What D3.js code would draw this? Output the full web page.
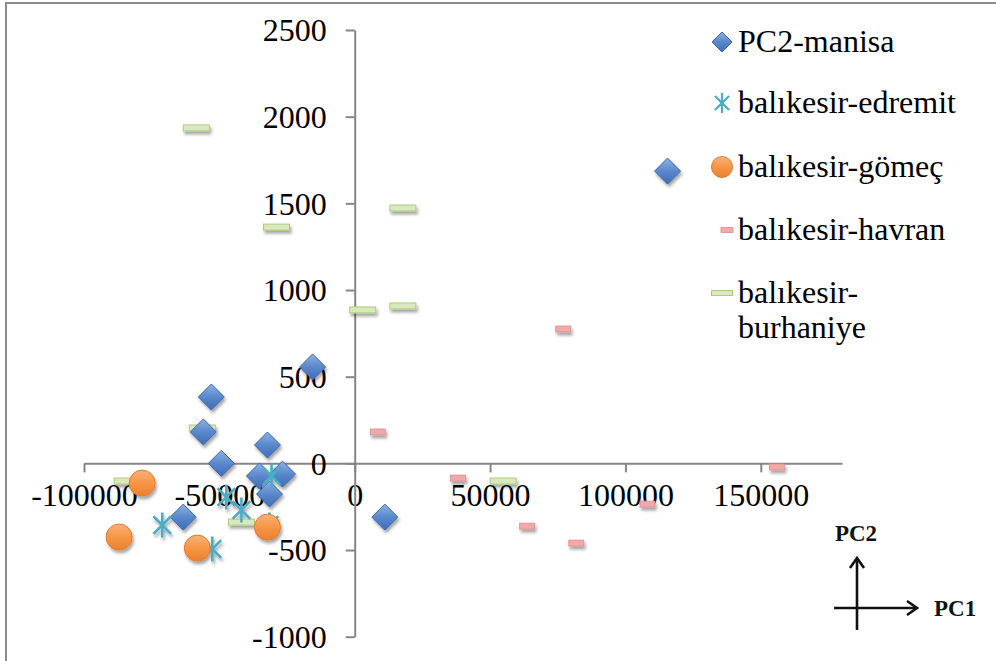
<!DOCTYPE html>
<html>
<head>
<meta charset="utf-8">
<script src="https://cdn.jsdelivr.net/npm/d3@7"></script>
<style>
  html, body { margin: 0; padding: 0; background: #fff; }
  svg { display: block; }
  svg text { font-family: "Liberation Serif", "Times New Roman", Tinos, "DejaVu Serif", serif; }
</style>
</head>
<body>
<svg id="chart" width="996" height="661"></svg>
<script>
// ---- data (PC1, PC2) ----
const seriesNames = ["PC2-manisa", "balıkesir-edremit", "balıkesir-gömeç", "balıkesir-havran", "balıkesir-burhaniye"];

const manisaPC1 = [115556, -15556, -52963, -55926, -49259, -32222, -35185, -26667, -31481, -63333, 11111];
const manisaPC2 = [1686, 556, 383, 181, 0, 106, -73, -62, -177, -310, -310];

const edremitPC1 = [-71111, -52593, -47407, -41852, -30741, -31481];
const edremitPC2 = [-356, -494, -194, -269, -73, -356];

const gomecPC1 = [-78519, -87037, -58148, -32222];
const gomecPC2 = [-114, -425, -489, -368];

const havranPC1 = [77037, 8519, 38148, 63704, 81852, 108148, 155926];
const havranPC2 = [775, 181, -85, -362, -460, -235, -21];

const burhaniyePC1 = [-58519, -28889, 17778, 2963, 17778, -56296, -84074, -41852, 54815];
const burhaniyePC2 = [1935, 1363, 1473, 885, 908, 204, -102, -339, -102];

const xTicks = [-100000, -50000, 0, 50000, 100000, 150000];
const yTicks = [-1000, -500, 0, 500, 1000, 1500, 2000, 2500];

// ---- drawing ----
const FONT = "'Liberation Serif', 'Times New Roman', Tinos, 'DejaVu Serif', serif";
const svg = d3.select("#chart");
const defs = svg.append("defs");

const shadow = defs.append("filter").attr("id", "shadow")
  .attr("x", "-50%").attr("y", "-50%").attr("width", "200%").attr("height", "200%");
shadow.append("feDropShadow").attr("dx", 1.5).attr("dy", 3).attr("stdDeviation", 1.8)
  .attr("flood-color", "#000").attr("flood-opacity", 0.35);

function vgrad(id, stops) {
  const g = defs.append("linearGradient").attr("id", id)
    .attr("x1", 0).attr("y1", 0).attr("x2", 0).attr("y2", 1);
  stops.forEach(([o, c]) => g.append("stop").attr("offset", o).attr("stop-color", c));
}
vgrad("gBlue", [[0, "#8DB1E2"], [0.5, "#5B88CC"], [1, "#3E6DB5"]]);
vgrad("gOrange", [[0, "#F9B27A"], [0.5, "#F79646"], [1, "#E9812F"]]);

// outer border
svg.append("rect").attr("x", 6).attr("y", 3).attr("width", 1000).attr("height", 700)
  .attr("fill", "none").attr("stroke", "#8c8c8c").attr("stroke-width", 2);

const x = d3.scaleLinear().domain([-100000, 180000]).range([84, 842]);
const y = d3.scaleLinear().domain([-1000, 2500]).range([636.7, 30]);

const axisColor = "#868686";
const fmt = d => String(d);

const xAxis = svg.append("g").attr("transform", `translate(0,${y(0)})`)
  .call(d3.axisBottom(x).tickValues(xTicks).tickSize(9).tickSizeOuter(0).tickFormat(fmt));
const yAxis = svg.append("g").attr("transform", `translate(${x(0)},0)`)
  .call(d3.axisLeft(y).tickValues(yTicks).tickSize(9).tickSizeOuter(0).tickPadding(19).tickFormat(fmt));

[xAxis, yAxis].forEach(a => {
  a.attr("font-family", FONT).attr("font-size", 32);
  a.select(".domain").attr("stroke", axisColor).attr("stroke-width", 2);
  a.selectAll(".tick line").attr("stroke", axisColor).attr("stroke-width", 2);
  a.selectAll("text").attr("fill", "#000").style("font-family", FONT).style("font-size", "32px");
});
xAxis.selectAll("text").attr("y", 43).attr("dy", 0);
yAxis.selectAll("text").attr("dy", "0.34em");

// marker drawers
function diamond(g, cx, cy, r) {
  g.append("path").attr("d", `M${cx},${cy - r}L${cx + r},${cy}L${cx},${cy + r}L${cx - r},${cy}Z`)
    .attr("fill", "url(#gBlue)").attr("stroke", "#3A67AE").attr("stroke-width", 1);
}
function star(g, cx, cy, r, w) {
  const a = r * Math.cos(Math.PI / 4), b = r * Math.sin(Math.PI / 4);
  const p = `M${cx},${cy - r}L${cx},${cy + r}M${cx - a},${cy - b}L${cx + a},${cy + b}M${cx - a},${cy + b}L${cx + a},${cy - b}`;
  g.append("path").attr("d", p).attr("stroke", "#4BACC6").attr("stroke-width", w).attr("fill", "none");
}
function circle(g, cx, cy, r) {
  g.append("circle").attr("cx", cx).attr("cy", cy).attr("r", r)
    .attr("fill", "url(#gOrange)").attr("stroke", "#E37B2E").attr("stroke-width", 1);
}
function dashPink(g, cx, cy, w, h) {
  g.append("rect").attr("x", cx - w / 2).attr("y", cy - h / 2).attr("width", w).attr("height", h)
    .attr("fill", "#F3A9A9").attr("stroke", "#DB8E8E").attr("stroke-width", 0.8);
}
function dashGreen(g, cx, cy, w, h) {
  g.append("rect").attr("x", cx - w / 2).attr("y", cy - h / 2).attr("width", w).attr("height", h)
    .attr("fill", "#DAE8BF").attr("stroke", "#AFCB7A").attr("stroke-width", 1);
}

const plot = svg.append("g").attr("filter", "url(#shadow)");

const gBurh = plot.append("g");
burhaniyePC1.forEach((v, i) => dashGreen(gBurh, x(v), y(burhaniyePC2[i]), 26, 6));
const gHav = plot.append("g");
havranPC1.forEach((v, i) => dashPink(gHav, x(v), y(havranPC2[i]), 15, 6));
const gMan = plot.append("g");
manisaPC1.forEach((v, i) => diamond(gMan, x(v), y(manisaPC2[i]), 13));
const gEdr = plot.append("g");
edremitPC1.forEach((v, i) => star(gEdr, x(v), y(edremitPC2[i]), 12.5, 2.6));
const gGom = plot.append("g");
gomecPC1.forEach((v, i) => circle(gGom, x(v), y(gomecPC2[i]), 13));

// legend
const legend = svg.append("g");
const legY = [42, 103, 167, 230, 293];
const drawers = [
  (g, cy) => diamond(g, 722, cy, 10),
  (g, cy) => star(g, 722, cy, 10, 2.2),
  (g, cy) => circle(g, 722, cy, 10.5),
  (g, cy) => dashPink(g, 727, cy, 12, 5),
  (g, cy) => dashGreen(g, 722, cy, 21, 5)
];
seriesNames.forEach((name, i) => {
  drawers[i](legend, legY[i]);
  const t = legend.append("text").attr("x", 738).attr("y", legY[i] + 10)
    .style("font-family", FONT).style("font-size", "32px").attr("fill", "#000");
  if (i === 4) {
    t.append("tspan").attr("x", 738).text("balıkesir-");
    t.append("tspan").attr("x", 738).attr("dy", 35).text("burhaniye");
  } else {
    t.text(name);
  }
});

// PC1/PC2 direction glyph
const ar = svg.append("g").attr("stroke", "#111").attr("stroke-width", 2.6).attr("fill", "none");
ar.append("line").attr("x1", 857).attr("y1", 630).attr("x2", 857).attr("y2", 559);
ar.append("path").attr("d", "M850,568L857,558L864,568");
ar.append("line").attr("x1", 834).attr("y1", 608).attr("x2", 916).attr("y2", 608);
ar.append("path").attr("d", "M907,601L917,608L907,615");
svg.append("text").attr("x", 856).attr("y", 541).attr("text-anchor", "middle")
  .style("font-family", FONT).style("font-size", "23px").style("font-weight", "bold").attr("fill", "#111").text("PC2");
svg.append("text").attr("x", 934).attr("y", 616)
  .style("font-family", FONT).style("font-size", "23px").style("font-weight", "bold").attr("fill", "#111").text("PC1");
</script>
</body>
</html>
